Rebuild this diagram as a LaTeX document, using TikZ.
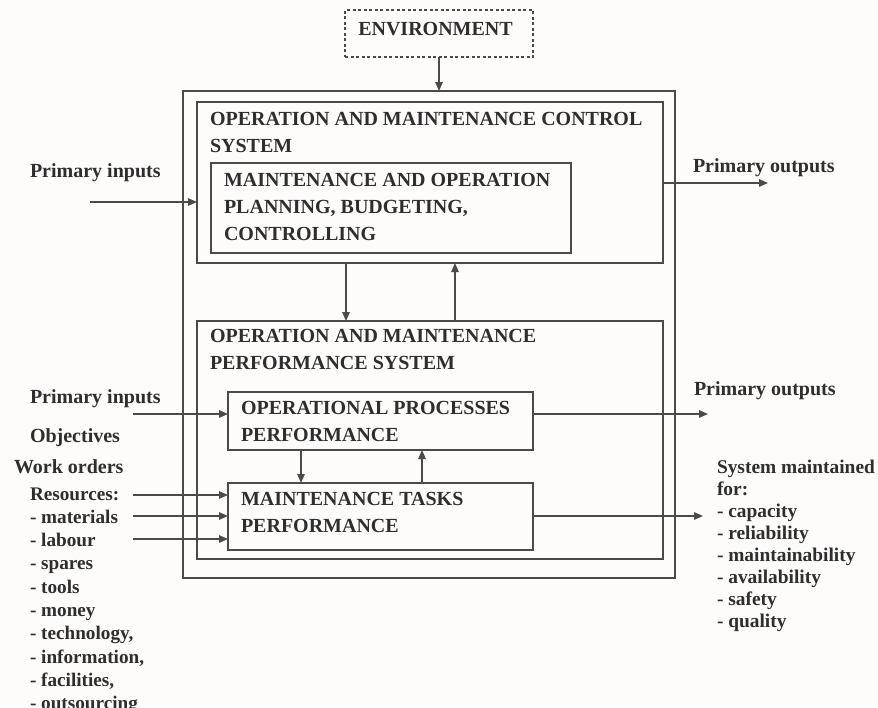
\documentclass[tikz,border=0pt]{standalone}
\usepackage{fontspec}
\setmainfont{Liberation Serif}
\usetikzlibrary{arrows.meta}
\definecolor{ink}{HTML}{2E2E2E}
\definecolor{linec}{HTML}{4A4A4A}
\definecolor{bg}{HTML}{FDFCFA}
\begin{document}
\begin{tikzpicture}[x=1pt,y=-1pt,
  box/.style={draw=linec,line width=1.4pt,inner sep=0pt,outer sep=0pt,rectangle},
  txt/.style={inner sep=0pt,outer sep=0pt,anchor=north west,align=left,text=ink,
     font=\fontsize{20}{27}\selectfont\bfseries},
  lst/.style={txt,font=\fontsize{19.2}{23.3}\selectfont\bfseries},
  arr/.style={draw=linec,line width=1.3pt,-{Triangle[length=9pt,width=7.5pt]}}]
\fill[bg] (0,0) rectangle (878,707);
\useasboundingbox (0,0) rectangle (878,707);
% boxes
\node[box,dashed,dash pattern=on 3pt off 2.5pt,minimum width=188pt,minimum height=47pt] (env) at (439,33.5) {};
\node[txt,anchor=base] (envt) at (435.5,35) {ENVIRONMENT};
\node[box,minimum width=492pt,minimum height=487pt] (outer) at (429,334.5) {};
\node[box,minimum width=466pt,minimum height=161pt] (ctrl) at (430,182.5) {};
\node[box,minimum width=360pt,minimum height=90pt] (plan) at (391,208) {};
\node[box,minimum width=466pt,minimum height=238pt] (perf) at (430,440) {};
\node[box,minimum width=305pt,minimum height=58pt] (ops) at (380.5,421) {};
\node[box,minimum width=305pt,minimum height=67pt] (maint) at (380.5,516.5) {};
% box texts
\node[txt] (ctrlt) at (210,112.5) {OPERATION AND MAINTENANCE CONTROL\\SYSTEM};
\node[txt] (plant) at (224,173.5) {MAINTENANCE AND OPERATION\\PLANNING, BUDGETING,\\CONTROLLING};
\node[txt] (perft) at (210,329.5) {OPERATION AND MAINTENANCE\\PERFORMANCE SYSTEM};
\node[txt] (opst) at (241,401.5) {OPERATIONAL PROCESSES\\PERFORMANCE};
\node[txt] (maintt) at (241,492.5) {MAINTENANCE TASKS\\PERFORMANCE};
% outside texts
\node[txt,anchor=base west] (pi1t) at (30,177) {Primary inputs};
\node[txt,anchor=base west] (po1t) at (693,172) {Primary outputs};
\node[txt,anchor=base west] (pi2t) at (30,403) {Primary inputs};
\node[txt,anchor=base west] (po2t) at (694,395) {Primary outputs};
\node[txt,anchor=base west] (objt) at (30,442) {Objectives};
\node[txt,anchor=base west] (wot) at (14,473) {Work orders};
\node[lst] (rest) at (30,487.5) {Resources:\\- materials\\- labour\\- spares\\- tools\\- money\\- technology,\\- information,\\- facilities,\\- outsourcing};
\node[lst,font=\fontsize{19.4}{22}\selectfont\bfseries] (syst) at (717,460.5) {System maintained\\for:\\- capacity\\- reliability\\- maintainability\\- availability\\- safety\\- quality};
% coordinates
\coordinate (pi1) at (90,202);
\coordinate (po1) at (768,183);
\coordinate (pi2) at (133,414);
\coordinate (po2) at (708,414);
\coordinate (r1) at (133,495);
\coordinate (r2) at (133,516);
\coordinate (r3) at (133,539);
\coordinate (mo) at (703,516);
% connectors
\draw[arr] (env.south) -- (env.south |- outer.north);
\draw[arr] (pi1) -- (pi1 -| ctrl.west);
\draw[arr] (po1 -| ctrl.east) -- (po1);
\draw[arr] ([xshift=-84pt]ctrl.south) -- ([xshift=-84pt]perf.north);
\draw[arr] ([xshift=25pt]perf.north) -- ([xshift=25pt]ctrl.south);
\draw[arr] (pi2) -- (pi2 -| ops.west);
\draw[arr] (po2 -| ops.east) -- (po2);
\draw[arr] ([xshift=-79.5pt]ops.south) -- ([xshift=-79.5pt]maint.north);
\draw[arr] ([xshift=41.5pt]maint.north) -- ([xshift=41.5pt]ops.south);
\draw[arr] (r1) -- (r1 -| maint.west);
\draw[arr] (r2) -- (r2 -| maint.west);
\draw[arr] (r3) -- (r3 -| maint.west);
\draw[arr] (mo -| maint.east) -- (mo);
\end{tikzpicture}
\end{document}
